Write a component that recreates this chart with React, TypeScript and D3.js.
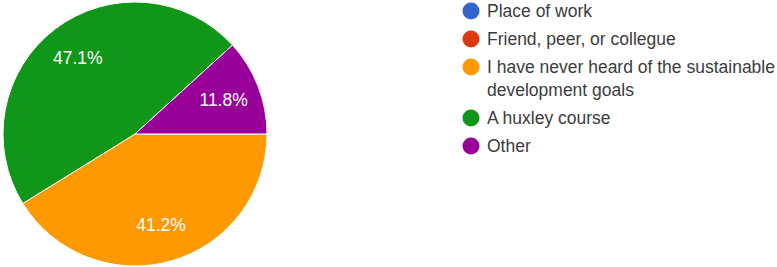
import React from "react";
import * as d3 from "d3";

const categories = [
  "Place of work",
  "Friend, peer, or collegue",
  "I have never heard of the sustainable development goals",
  "A huxley course",
  "Other",
];
const values = [0, 0, 7, 8, 2];
const colors = ["#3366cc", "#dc3912", "#ff9900", "#109618", "#990099"];
const legendLines = [
  ["Place of work"],
  ["Friend, peer, or collegue"],
  ["I have never heard of the sustainable", "development goals"],
  ["A huxley course"],
  ["Other"],
];

const W = 777;
const H = 267;
const cx = 135;
const cy = 134;
const R = 132;

export default function App() {
  const total = d3.sum(values);
  const pie = d3
    .pie<number>()
    .sort(null)
    .startAngle(Math.PI / 2)
    .endAngle(Math.PI / 2 + 2 * Math.PI);
  const arcs = pie(values);
  const arc = d3.arc<d3.PieArcDatum<number>>().innerRadius(0).outerRadius(R);
  const labelArc = d3
    .arc<d3.PieArcDatum<number>>()
    .innerRadius(R * 0.72)
    .outerRadius(R * 0.72);

  const legendX = 471;
  const rowYs: number[] = [];
  let y = 11;
  legendLines.forEach((lines) => {
    rowYs.push(y);
    y += 28 + (lines.length - 1) * 23;
  });

  return (
    <svg
      width={W}
      height={H}
      style={{ position: "absolute", left: 0, top: 0, background: "#fff" }}
      fontFamily="'Liberation Sans', Arial, sans-serif"
    >
      <g transform={`translate(${cx},${cy})`}>
        {arcs.map((a, i) =>
          a.value > 0 ? (
            <path
              key={i}
              d={arc(a) || ""}
              fill={colors[i]}
              stroke="#fff"
              strokeWidth={1}
            />
          ) : null
        )}
        {arcs.map((a, i) => {
          if (a.value <= 0) return null;
          const [lx, ly] = labelArc.centroid(a);
          return (
            <text
              key={"l" + i}
              x={lx}
              y={ly}
              textAnchor="middle"
              dominantBaseline="central"
              fill="#fff"
              fontSize={17.5}
            >
              {((a.value / total) * 100).toFixed(1) + "%"}
            </text>
          );
        })}
      </g>
      {categories.map((c, i) => (
        <g key={c}>
          <circle cx={legendX} cy={rowYs[i]} r={8.5} fill={colors[i]} />
          <text
            x={487}
            y={rowYs[i]}
            fill="#3c3c3c"
            fontSize={17.5}
            dominantBaseline="central"
          >
            {legendLines[i].map((ln, j) => (
              <tspan key={j} x={487} dy={j === 0 ? 0 : 23}>
                {ln}
              </tspan>
            ))}
          </text>
        </g>
      ))}
    </svg>
  );
}
